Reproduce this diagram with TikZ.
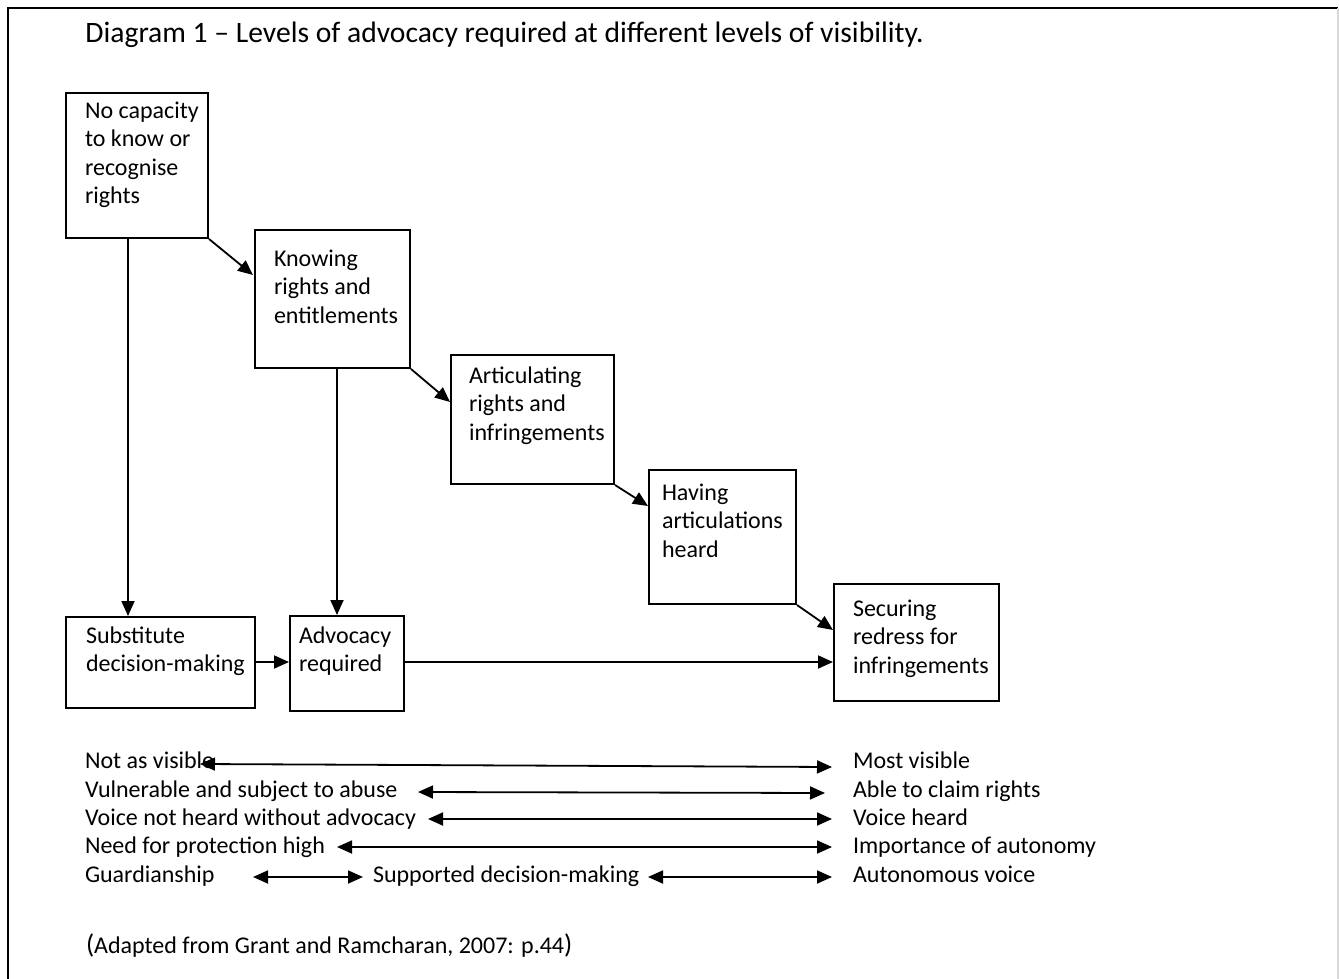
\documentclass[tikz,border=0pt]{standalone}
\usepackage{fontspec}
\setmainfont{Carlito}
\usetikzlibrary{arrows.meta}
\begin{document}
\begin{tikzpicture}[x=0.5pt,y=-0.5pt,
  box/.style={draw, line width=1pt, inner sep=0pt, anchor=north west},
  txt/.style={anchor=north west, inner sep=0pt, outer sep=0pt, align=left, yshift=10.0pt,
    font=\fontsize{12}{14.3}\selectfont},
  lbl/.style={anchor=base west, inner sep=0pt, outer sep=0pt, font=\fontsize{12}{14.3}\selectfont},
  arr/.style={line width=0.9pt, -{Triangle[length=7.5pt,width=6.5pt]}},
  darr/.style={line width=0.9pt, {Triangle[length=7.5pt,width=6.5pt]}-{Triangle[length=7.5pt,width=6.5pt]}},
]
\useasboundingbox (0,0) rectangle (1339,979);
% frame
\draw[line width=1pt] (8,1000) -- (8,8) -- (1338,8);
\draw[line width=0.6pt, black!15] (1338,8) -- (1338,1000);

% title
\node[anchor=base west, inner sep=0pt, font=\fontsize{14.8}{17}\selectfont] (title) at (85,43)
  {Diagram 1 -- Levels of advocacy required at different levels of visibility.};

% boxes
\node[box, minimum width=71pt, minimum height=72.5pt] (A) at (65,92) {};
\node[box, minimum width=77.5pt, minimum height=69pt] (B) at (254,229) {};
\node[box, minimum width=81.5pt, minimum height=64.5pt] (C) at (450,354) {};
\node[box, minimum width=73.5pt, minimum height=67pt] (D) at (648,469) {};
\node[box, minimum width=82.5pt, minimum height=58.5pt] (E) at (833,583) {};
\node[box, minimum width=94.5pt, minimum height=45.5pt] (F) at (65,616) {};
\node[box, minimum width=57pt, minimum height=47.5pt] (G) at (289,615) {};

% box texts
\node[txt] (At) at (85,118) {\strut No capacity\\to know or\\recognise\\rights};
\node[txt] (Bt) at (274,266) {\strut Knowing\\rights and\\entitlements};
\node[txt] (Ct) at (469,383) {\strut Articulating\\rights and\\infringements};
\node[txt] (Dt) at (662,500) {\strut Having\\articulations\\heard};
\node[txt] (Et) at (853,616) {\strut Securing\\redress for\\infringements};
\node[txt] (Ft) at (86,643) {\strut Substitute\\decision-making};
\node[txt] (Gt) at (299,643) {\strut Advocacy\\required};

% connectors
\draw[arr] (A.south east) -- (253,275);
\draw[arr] (B.south east) -- (450,402);
\draw[arr] (C.south east) -- (648,506);
\draw[arr] (D.south east) -- (833,630);
\draw[arr] (128,237) -- (128,616);
\draw[arr] (337,367) -- (337,615);
\draw[arr] (F.east |- 0,662) -- (G.west |- 0,662);
\draw[arr] (G.east |- 0,662) -- (E.west |- 0,662);

% bottom scale
\node[lbl] (L1) at (85,768) {Not as visible};
\node[lbl] (L2) at (85,797) {Vulnerable and subject to abuse};
\node[lbl] (L3) at (85,825) {Voice not heard without advocacy};
\node[lbl] (L4) at (85,853) {Need for protection high};
\node[lbl] (L5) at (85,882) {Guardianship};
\node[lbl] (M5) at (373,882) {Supported decision-making};
\node[lbl] (R1) at (853,768) {Most visible};
\node[lbl] (R2) at (853,797) {Able to claim rights};
\node[lbl] (R3) at (853,825) {Voice heard};
\node[lbl] (R4) at (853,853) {Importance of autonomy};
\node[lbl] (R5) at (853,882) {Autonomous voice};

\coordinate (a1) at (200,764); \coordinate (b1) at (832,767);
\coordinate (a2) at (418,792); \coordinate (b2) at (825,793);
\coordinate (a3) at (428,819); \coordinate (b3) at (832,819);
\coordinate (a4) at (337,847); \coordinate (b4) at (832,847);
\coordinate (a5) at (253,877); \coordinate (b5) at (363,877);
\coordinate (c5) at (648,877); \coordinate (d5) at (832,877);
\draw[darr] (a1) -- (b1);
\draw[darr] (a2) -- (b2);
\draw[darr] (a3) -- (b3);
\draw[darr] (a4) -- (b4);
\draw[darr] (a5) -- (b5);
\draw[darr] (c5) -- (d5);

% caption
\node[lbl] (cap) at (86,953) {{\fontsize{13.5}{14}\selectfont(}Adapted from Grant and Ramcharan, 2007: p.44{\fontsize{13.5}{14}\selectfont)}};
\end{tikzpicture}
\end{document}
